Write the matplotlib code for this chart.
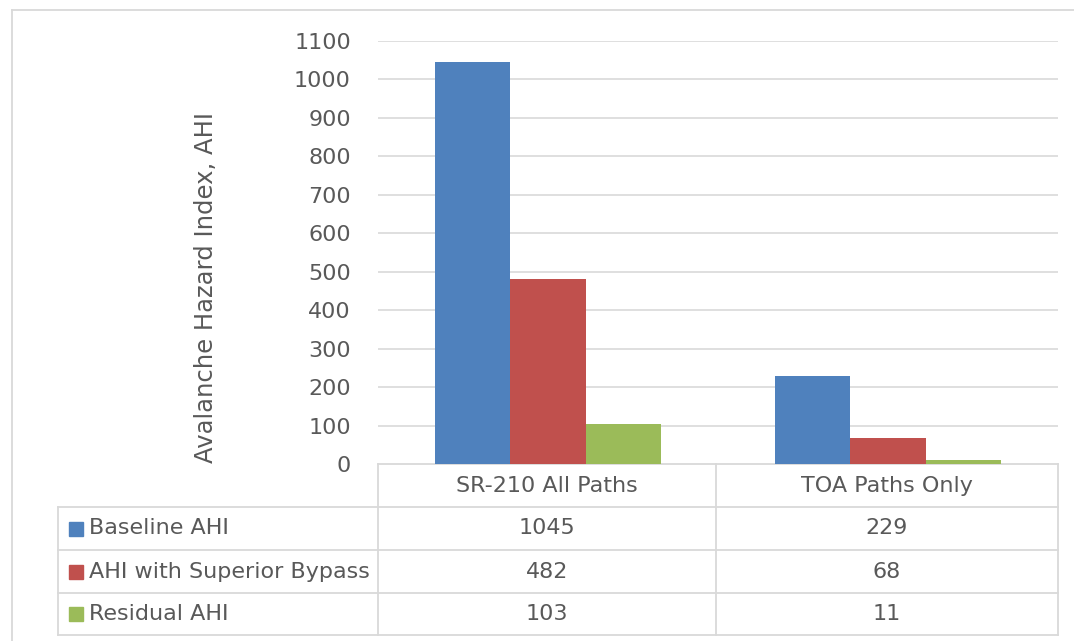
import matplotlib.pyplot as plt
import numpy as np

categories = ["SR-210 All Paths", "TOA Paths Only"]
series_names = ["Baseline AHI", "AHI with Superior Bypass", "Residual AHI"]
baseline = [1045, 229]
bypass = [482, 68]
residual = [103, 11]
y_ticks = list(range(0, 1200, 100))

colors = ["#4F81BD", "#C0504D", "#9BBB59"]
text_color = "#595959"
grid_color = "#D9D9D9"
font = "DejaVu Sans"
fs = 16

W, H = 1074, 641
fig = plt.figure(figsize=(W / 100, H / 100), dpi=100)

# Pixel layout of the plot area
px_left, px_right, px_top, px_bottom = 378, 1058, 41, 464
ax = fig.add_axes([px_left / W, 1 - px_bottom / H,
                   (px_right - px_left) / W, (px_bottom - px_top) / H])

values = [baseline, bypass, residual]
x = np.arange(len(categories))
bw = 0.222
for i, (name, vals) in enumerate(zip(series_names, values)):
    ax.bar(x + (i - 1) * bw, vals, width=bw, color=colors[i], label=name, zorder=3)

ax.set_xlim(-0.5, len(categories) - 0.5)
ax.set_ylim(0, 1100)
ax.set_yticks(y_ticks)
ax.set_yticklabels([str(t) for t in y_ticks], fontsize=fs, color=text_color, family=font)
ax.tick_params(axis="y", length=0, pad=19.5)
ax.set_xticks([])
for t in y_ticks[1:]:
    ax.axhline(t, color=grid_color, lw=1.2, zorder=1)
for s in ax.spines.values():
    s.set_visible(False)
ax.set_facecolor("none")

fig.text(206 / W, 1 - 287 / H, "Avalanche Hazard Index, AHI", rotation=90,
         ha="center", va="center", fontsize=17.5, color=text_color, family=font)

# Overlay in pixel coordinates for the data table and the frame
ov = fig.add_axes([0, 0, 1, 1], zorder=-1)
ov.set_xlim(0, W)
ov.set_ylim(H, 0)
ov.axis("off")

line_kw = dict(color=grid_color, lw=1.3)
# outer frame
ov.plot([12, 12], [10, H], **line_kw)
ov.plot([12, W], [10, 10], **line_kw)

col_x = [px_left, 716, px_right]
row_y = [464, 507, 550, 593, 635]
tbl_left = 58

# header row
ov.plot([px_left, px_right], [row_y[0], row_y[0]], **line_kw)
for cx in col_x:
    ov.plot([cx, cx], [row_y[0], row_y[-1]], **line_kw)
ov.plot([tbl_left, tbl_left], [row_y[1], row_y[-1]], **line_kw)
for ry in row_y[1:]:
    ov.plot([tbl_left, px_right], [ry, ry], **line_kw)

for j, cat in enumerate(categories):
    cx = (col_x[j] + col_x[j + 1]) / 2
    ov.text(cx, (row_y[0] + row_y[1]) / 2, cat, ha="center", va="center",
            fontsize=fs, color=text_color, family=font)

for i, (name, vals) in enumerate(zip(series_names, values)):
    cy = (row_y[i + 1] + row_y[i + 2]) / 2
    ov.add_patch(plt.Rectangle((69, cy - 7), 14, 14, color=colors[i]))
    ov.text(89, cy, name, ha="left", va="center", fontsize=fs,
            color=text_color, family=font)
    for j, v in enumerate(vals):
        cx = (col_x[j] + col_x[j + 1]) / 2
        ov.text(cx, cy, str(v), ha="center", va="center", fontsize=fs,
                color=text_color, family=font)

fig.savefig("out.png", dpi=100, facecolor="white")
